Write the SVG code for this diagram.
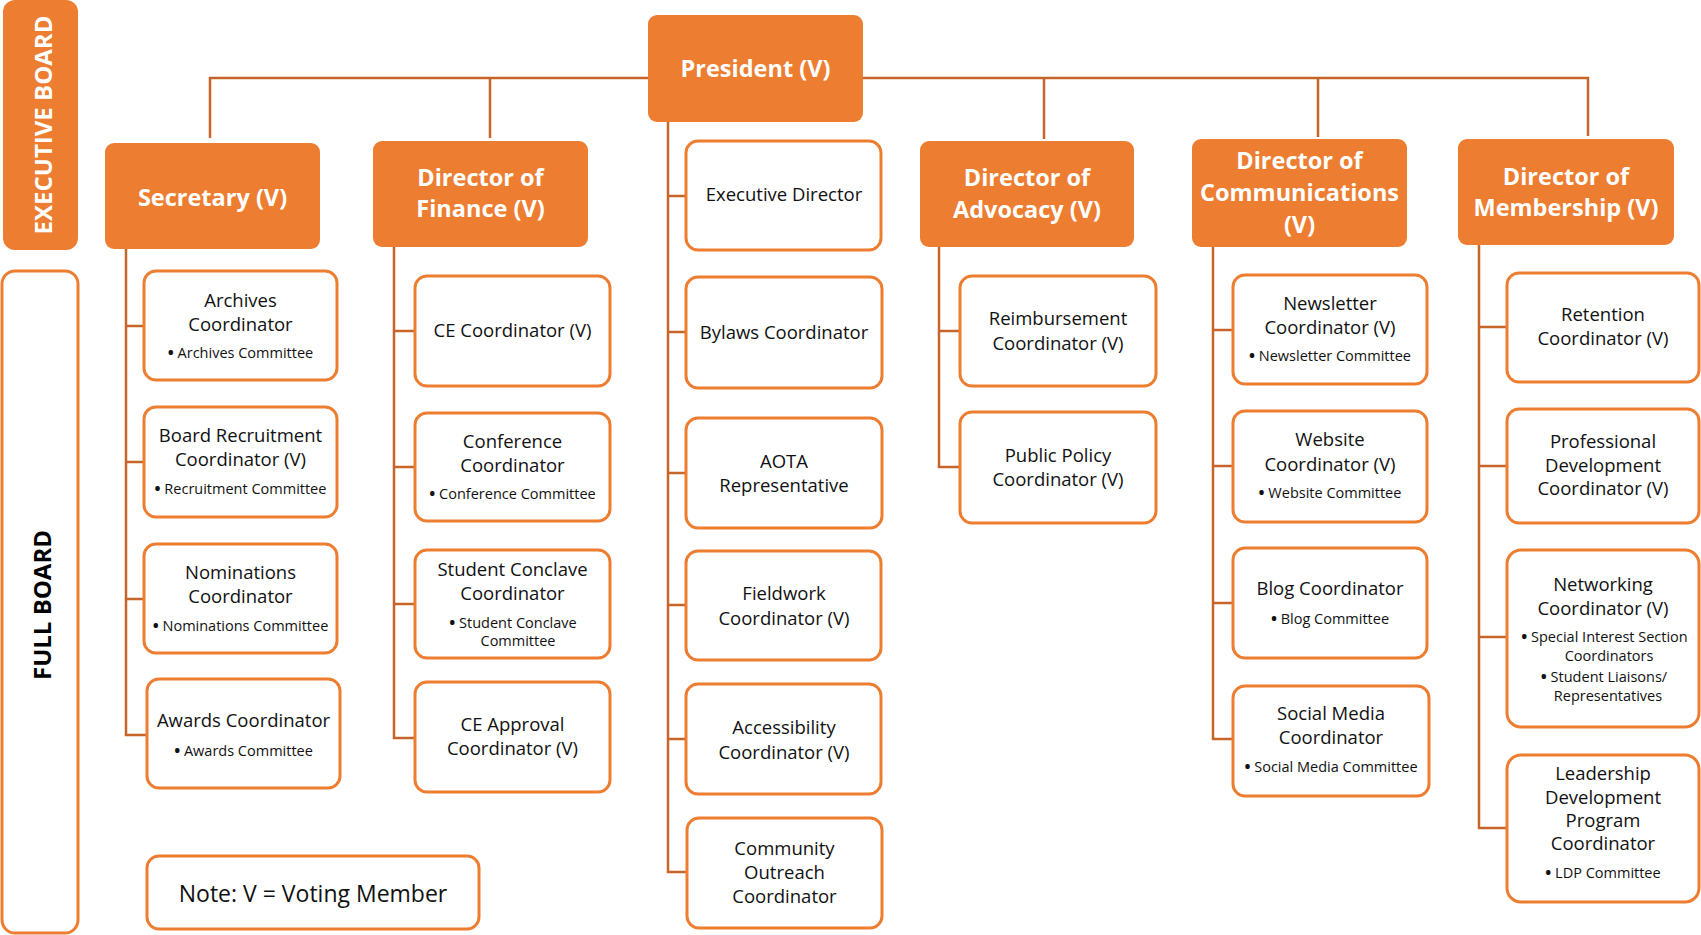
<svg xmlns="http://www.w3.org/2000/svg" width="1701" height="935" viewBox="0 0 1701 935">
<style>
.hdr{fill:#ED7D31;}
.box{fill:#fff;stroke:#ED7D31;stroke-width:3;}
.conn{fill:none;stroke:#C5652A;stroke-width:2.5;}
.ht{font-family:'Open Sans','Liberation Sans',sans-serif;font-weight:bold;font-size:23.5px;fill:#fff;text-anchor:middle;}
.t{font-family:'Open Sans','Liberation Sans',sans-serif;font-size:18.5px;fill:#111;text-anchor:middle;}
.b{font-family:'Open Sans','Liberation Sans',sans-serif;font-size:14.5px;fill:#111;text-anchor:middle;}
.d{font-weight:bold;font-size:16px;}
.side{font-family:'Open Sans','Liberation Sans',sans-serif;font-weight:bold;font-size:24px;text-anchor:middle;}
</style>
<rect width="1701" height="935" fill="#fff"/>
<g id="connectors">
<path class="conn" d="M210,138 V78 H1588 V136"/>
<path class="conn" d="M490,78 V138"/>
<path class="conn" d="M1044,78 V139"/>
<path class="conn" d="M1318,78 V137"/>
<path class="conn" d="M126,249 V735 H147 M126,326 H144 M126,462 H144 M126,599 H144"/>
<path class="conn" d="M394,247 V738 H415 M394,331 H415 M394,467 H415 M394,604 H415"/>
<path class="conn" d="M668,122 V872 H687 M668,196 H686 M668,332 H686 M668,473 H686 M668,605 H686 M668,739 H686"/>
<path class="conn" d="M939,247 V467 H960 M939,331 H960"/>
<path class="conn" d="M1213,247 V739 H1233 M1213,330 H1233 M1213,466 H1233 M1213,603 H1233"/>
<path class="conn" d="M1479,245 V828 H1507 M1479,327 H1507 M1479,466 H1507 M1479,637 H1507"/>
</g>
<g id="executive-board">
<rect class="hdr" x="3" y="0" width="75" height="250" rx="12"/>
<text class="side" fill="#fff" transform="translate(52,125) rotate(-90)">EXECUTIVE BOARD</text>
</g>
<g id="full-board">
<rect class="box" x="2" y="271" width="76" height="662" rx="13"/>
<text class="side" fill="#000" transform="translate(51,605) rotate(-90)">FULL BOARD</text>
</g>
<g id="president">
<rect class="hdr" x="648" y="15" width="215" height="107" rx="9"/>
<text class="ht" x="755.5" y="76.5">President (V)</text>
</g>
<g id="secretary">
<rect class="hdr" x="105" y="143" width="215" height="106" rx="9"/>
<text class="ht" x="212.5" y="205.5">Secretary (V)</text>
</g>
<g id="finance">
<rect class="hdr" x="373" y="141" width="215" height="106" rx="9"/>
<text class="ht" x="480.5" y="185.5">Director of</text>
<text class="ht" x="480.5" y="216.5">Finance (V)</text>
</g>
<g id="advocacy">
<rect class="hdr" x="920" y="141" width="214" height="106" rx="9"/>
<text class="ht" x="1027" y="185.5">Director of</text>
<text class="ht" x="1027" y="217.5">Advocacy (V)</text>
</g>
<g id="communications">
<rect class="hdr" x="1192" y="139" width="215" height="108" rx="9"/>
<text class="ht" x="1299.5" y="168.5">Director of</text>
<text class="ht" x="1299.5" y="200.5">Communications</text>
<text class="ht" x="1299.5" y="232.5">(V)</text>
</g>
<g id="membership">
<rect class="hdr" x="1458" y="139" width="216" height="106" rx="9"/>
<text class="ht" x="1566" y="184.5">Director of</text>
<text class="ht" x="1566" y="215.5">Membership (V)</text>
</g>
<g id="archives">
<rect class="box" x="144" y="271" width="193" height="109" rx="12"/>
<text class="t" x="240.5" y="306.5">Archives</text>
<text class="t" x="240.5" y="330.5">Coordinator</text>
<text class="b" x="240.5" y="358"><tspan class="d">•</tspan> Archives Committee</text>
</g>
<g id="board-recruitment">
<rect class="box" x="144" y="407" width="193" height="110" rx="12"/>
<text class="t" x="240.5" y="441.5">Board Recruitment</text>
<text class="t" x="240.5" y="465.5">Coordinator (V)</text>
<text class="b" x="240.5" y="494"><tspan class="d">•</tspan> Recruitment Committee</text>
</g>
<g id="nominations">
<rect class="box" x="144" y="544" width="193" height="109" rx="12"/>
<text class="t" x="240.5" y="578.5">Nominations</text>
<text class="t" x="240.5" y="602.5">Coordinator</text>
<text class="b" x="240.5" y="631"><tspan class="d">•</tspan> Nominations Committee</text>
</g>
<g id="awards">
<rect class="box" x="147" y="679" width="193" height="109" rx="12"/>
<text class="t" x="243.5" y="726.5">Awards Coordinator</text>
<text class="b" x="243.5" y="756"><tspan class="d">•</tspan> Awards Committee</text>
</g>
<g id="note">
<rect class="box" x="147" y="856" width="332" height="73" rx="12"/>
<text class="t" x="313" y="902" style="font-size:23px">Note: V = Voting Member</text>
</g>
<g id="ce-coordinator">
<rect class="box" x="415" y="276" width="195" height="110" rx="12"/>
<text class="t" x="512.5" y="336.5">CE Coordinator (V)</text>
</g>
<g id="conference">
<rect class="box" x="415" y="413" width="195" height="108" rx="12"/>
<text class="t" x="512.5" y="447.5">Conference</text>
<text class="t" x="512.5" y="471.5">Coordinator</text>
<text class="b" x="512.5" y="499"><tspan class="d">•</tspan> Conference Committee</text>
</g>
<g id="student-conclave">
<rect class="box" x="415" y="550" width="195" height="108" rx="12"/>
<text class="t" x="512.5" y="575.5">Student Conclave</text>
<text class="t" x="512.5" y="599.5">Coordinator</text>
<text class="b" x="513" y="628"><tspan class="d">•</tspan> Student Conclave</text>
<text class="b" x="518" y="646">Committee</text>
</g>
<g id="ce-approval">
<rect class="box" x="415" y="682" width="195" height="110" rx="12"/>
<text class="t" x="512.5" y="730.5">CE Approval</text>
<text class="t" x="512.5" y="754.5">Coordinator (V)</text>
</g>
<g id="executive-director">
<rect class="box" x="686" y="141" width="195" height="109" rx="12"/>
<text class="t" x="784" y="200.5">Executive Director</text>
</g>
<g id="bylaws">
<rect class="box" x="686" y="277" width="196" height="111" rx="12"/>
<text class="t" x="784" y="338.5">Bylaws Coordinator</text>
</g>
<g id="aota">
<rect class="box" x="686" y="418" width="196" height="110" rx="12"/>
<text class="t" x="784" y="467.5">AOTA</text>
<text class="t" x="784" y="491.5">Representative</text>
</g>
<g id="fieldwork">
<rect class="box" x="686" y="551" width="195" height="109" rx="12"/>
<text class="t" x="784" y="599.5">Fieldwork</text>
<text class="t" x="784" y="624.5">Coordinator (V)</text>
</g>
<g id="accessibility">
<rect class="box" x="686" y="684" width="195" height="110" rx="12"/>
<text class="t" x="784" y="733.5">Accessibility</text>
<text class="t" x="784" y="758.5">Coordinator (V)</text>
</g>
<g id="community-outreach">
<rect class="box" x="687" y="818" width="195" height="110" rx="12"/>
<text class="t" x="784.5" y="854.5">Community</text>
<text class="t" x="784.5" y="878.5">Outreach</text>
<text class="t" x="784.5" y="902.5">Coordinator</text>
</g>
<g id="reimbursement">
<rect class="box" x="960" y="276" width="196" height="110" rx="12"/>
<text class="t" x="1058" y="325">Reimbursement</text>
<text class="t" x="1058" y="349.5">Coordinator (V)</text>
</g>
<g id="public-policy">
<rect class="box" x="960" y="412" width="196" height="111" rx="12"/>
<text class="t" x="1058" y="461.5">Public Policy</text>
<text class="t" x="1058" y="485.5">Coordinator (V)</text>
</g>
<g id="newsletter">
<rect class="box" x="1233" y="275" width="194" height="109" rx="12"/>
<text class="t" x="1330" y="309.5">Newsletter</text>
<text class="t" x="1330" y="333.5">Coordinator (V)</text>
<text class="b" x="1330" y="361"><tspan class="d">•</tspan> Newsletter Committee</text>
</g>
<g id="website">
<rect class="box" x="1233" y="411" width="194" height="111" rx="12"/>
<text class="t" x="1330" y="445.5">Website</text>
<text class="t" x="1330" y="470.5">Coordinator (V)</text>
<text class="b" x="1330" y="498"><tspan class="d">•</tspan> Website Committee</text>
</g>
<g id="blog">
<rect class="box" x="1233" y="548" width="194" height="110" rx="12"/>
<text class="t" x="1330" y="594.5">Blog Coordinator</text>
<text class="b" x="1330" y="624"><tspan class="d">•</tspan> Blog Committee</text>
</g>
<g id="social-media">
<rect class="box" x="1233" y="686" width="196" height="110" rx="12"/>
<text class="t" x="1331" y="719.5">Social Media</text>
<text class="t" x="1331" y="744">Coordinator</text>
<text class="b" x="1331" y="772"><tspan class="d">•</tspan> Social Media Committee</text>
</g>
<g id="retention">
<rect class="box" x="1507" y="273" width="192" height="109" rx="12"/>
<text class="t" x="1603" y="320.5">Retention</text>
<text class="t" x="1603" y="344.5">Coordinator (V)</text>
</g>
<g id="professional-development">
<rect class="box" x="1507" y="409" width="192" height="114" rx="12"/>
<text class="t" x="1603" y="447.5">Professional</text>
<text class="t" x="1603" y="471.5">Development</text>
<text class="t" x="1603" y="494.5">Coordinator (V)</text>
</g>
<g id="networking">
<rect class="box" x="1507" y="550" width="192" height="177" rx="14"/>
<text class="t" x="1603" y="590.5">Networking</text>
<text class="t" x="1603" y="614.5">Coordinator (V)</text>
<text class="b" x="1604.5" y="642"><tspan class="d">•</tspan> Special Interest Section</text>
<text class="b" x="1609" y="661">Coordinators</text>
<text class="b" x="1604" y="682"><tspan class="d">•</tspan> Student Liaisons/</text>
<text class="b" x="1608" y="701">Representatives</text>
</g>
<g id="leadership">
<rect class="box" x="1507" y="755" width="192" height="147" rx="14"/>
<text class="t" x="1603" y="779.5">Leadership</text>
<text class="t" x="1603" y="803.5">Development</text>
<text class="t" x="1603" y="826.5">Program</text>
<text class="t" x="1603" y="849.5">Coordinator</text>
<text class="b" x="1603" y="878"><tspan class="d">•</tspan> LDP Committee</text>
</g>
</svg>
